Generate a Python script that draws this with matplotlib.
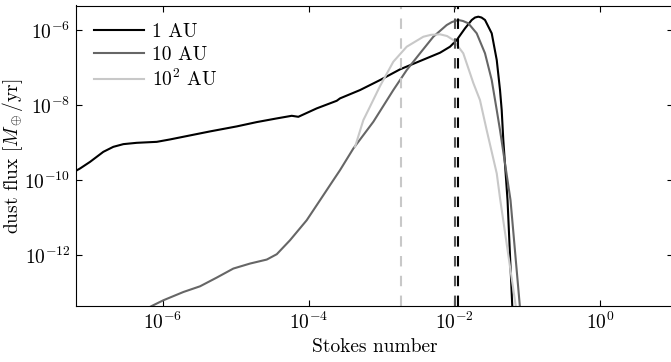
import matplotlib
matplotlib.use('Agg')
import matplotlib.pyplot as plt
import numpy as np

plt.rcParams['font.family'] = 'serif'
plt.rcParams['font.serif'] = ['cmr10', 'DejaVu Serif']
plt.rcParams['mathtext.fontset'] = 'cm'
plt.rcParams['axes.unicode_minus'] = False
plt.rcParams['axes.formatter.use_mathtext'] = True
plt.rcParams['font.size'] = 14

# values, as log10(Stokes number), log10(dust flux)
logx_1au = [-7.19, -7.134, -6.997, -6.815, -6.678, -6.540, -6.357, -6.082, -5.900, -5.626,
            -5.351, -4.985, -4.711, -4.436, -4.230, -4.140, -3.888, -3.613, -3.568, -3.294,
            -3.019, -2.745, -2.471, -2.196, -2.059, -1.967, -1.853, -1.761, -1.716, -1.671,
            -1.627, -1.579, -1.487, -1.418, -1.373, -1.350, -1.328, -1.270, -1.204]
logy_1au = [-9.75, -9.688, -9.512, -9.245, -9.112, -9.040, -9.005, -8.979, -8.915, -8.808,
            -8.701, -8.568, -8.453, -8.355, -8.285, -8.312, -8.088, -7.885, -7.821, -7.600,
            -7.333, -7.048, -6.827, -6.605, -6.445, -6.267, -5.955, -5.733, -5.667, -5.645,
            -5.667, -5.733, -6.088, -6.800, -7.600, -8.133, -8.933, -10.533, -13.40]

logx_10au = [-6.311, -6.151, -5.992, -5.717, -5.488, -5.259, -5.032, -4.802, -4.573, -4.436,
             -4.254, -4.025, -3.842, -3.660, -3.568, -3.385, -3.111, -2.837, -2.653, -2.471,
             -2.288, -2.104, -2.032, -1.945, -1.881, -1.808, -1.693, -1.579, -1.487, -1.418,
             -1.373, -1.229, -1.099]
logy_10au = [-13.52, -13.352, -13.2, -12.979, -12.827, -12.595, -12.355, -12.221, -12.115, -11.973,
             -11.6, -11.067, -10.533, -10.0, -9.733, -9.155, -8.445, -7.6, -7.067, -6.621,
             -6.179, -5.867, -5.787, -5.733, -5.760, -5.821, -6.088, -6.621, -7.333, -8.133,
             -8.667, -10.533, -13.40]

logx_100au = [-3.362, -3.248, -3.180, -3.019, -2.837, -2.653, -2.425, -2.320, -2.196, -2.100,
              -2.014, -1.877, -1.739, -1.648, -1.556, -1.418, -1.373, -1.154]
logy_100au = [-9.112, -8.4, -8.133, -7.493, -6.845, -6.445, -6.179, -6.128, -6.115, -6.160,
              -6.267, -6.621, -7.413, -7.867, -8.667, -9.821, -10.48, -13.40]

series = [('1 AU', logx_1au, logy_1au, 'black'),
          ('10 AU', logx_10au, logy_10au, '#666666'),
          ('10$^2$ AU', logx_100au, logy_100au, '#c8c8c8')]

# vertical dashed markers (Stokes number)
vlines = [(1.86e-3, '#c8c8c8'), (1.02e-2, '#555555'), (1.13e-2, 'black')]

fig = plt.figure(figsize=(6.71, 3.62), dpi=100)
ax = fig.add_axes([76/671, 1-306/362, (673-76)/671, (306-5.5)/362])

for label, lx, ly, c in series:
    ax.loglog(10**np.array(lx), 10**np.array(ly), color=c, lw=1.5, label=label)

for xv, c in vlines:
    ax.axvline(xv, color=c, lw=1.5, ls=(0, (5, 4.5)))

ax.set_xlim(10**-7.19, 10)
ax.set_ylim(10**-13.352, 10**-5.347)
ax.set_xticks([1e-6, 1e-4, 1e-2, 1e0])
ax.set_yticks([1e-6, 1e-8, 1e-10, 1e-12])
ax.minorticks_off()
ax.tick_params(direction='in', top=True, right=True, length=4, width=0.8, pad=4)

ax.set_xlabel('Stokes number', labelpad=4)
ax.set_ylabel(r'dust flux [$M_\oplus/\mathrm{yr}$]')
ax.yaxis.set_label_coords(-0.085, 0.5)

ax.legend(loc='upper left', frameon=False, handlelength=2.6, handletextpad=0.4,
          labelspacing=0.25, borderaxespad=0.5)

fig.savefig('out.png', dpi=100)
